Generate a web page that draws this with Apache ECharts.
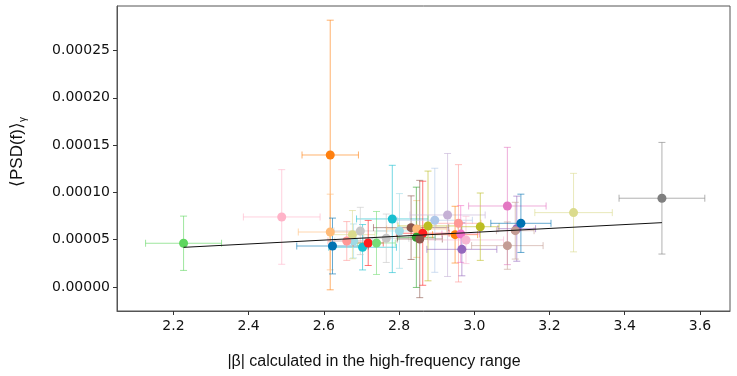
<!DOCTYPE html>
<html>
<head>
<meta charset="utf-8">
<script src="https://cdn.jsdelivr.net/npm/echarts@6/dist/echarts.min.js"></script>
<style>
    html, body { margin: 0; padding: 0; background: #fff; }
    #chart { width: 737px; height: 376px; }
</style>
</head>
<body>
<div id="chart"></div>
<script>
    // |beta| per recording and its error
    var betaValues = [2.227, 2.488, 2.617, 2.617, 2.623, 2.703, 2.782, 2.801, 2.679, 2.661, 2.676, 2.697,
        2.718, 2.740, 2.766, 2.832, 2.847, 2.863, 2.846, 2.855, 2.877, 2.895, 2.929, 2.958,
        2.949, 2.964, 2.978, 2.967, 3.016, 3.088, 3.088, 3.113, 3.109, 3.124, 3.264, 3.499];
    var betaErrors = [0.101, 0.102, 0.075, 0.085, 0.095, 0.090, 0.095, 0.060, 0.050, 0.050, 0.060, 0.070,
        0.040, 0.050, 0.060, 0.100, 0.080, 0.070, 0.050, 0.060, 0.080, 0.100, 0.100, 0.060,
        0.060, 0.050, 0.100, 0.093, 0.050, 0.103, 0.095, 0.050, 0.050, 0.080, 0.103, 0.114];
    // <PSD(f)> and its error
    var psdValues = [4.62e-5, 7.40e-5, 13.95e-5, 5.81e-5, 4.33e-5, 4.20e-5, 7.19e-5, 5.92e-5, 4.86e-5, 4.86e-5, 5.53e-5, 5.92e-5,
        4.65e-5, 4.65e-5, 5.15e-5, 6.27e-5, 6.13e-5, 5.68e-5, 5.25e-5, 5.07e-5, 6.45e-5, 7.05e-5, 7.61e-5, 6.73e-5,
        5.53e-5, 5.60e-5, 4.97e-5, 3.98e-5, 6.37e-5, 8.56e-5, 4.37e-5, 6.16e-5, 5.95e-5, 6.73e-5, 7.86e-5, 9.38e-5];
    var psdErrors = [2.87e-5, 5.00e-5, 14.25e-5, 4.00e-5, 2.95e-5, 2.40e-5, 5.67e-5, 3.95e-5, 1.80e-5, 2.05e-5, 2.55e-5, 2.50e-5,
        2.38e-5, 3.33e-5, 2.56e-5, 3.36e-5, 3.00e-5, 5.50e-5, 5.30e-5, 6.20e-5, 5.80e-5, 5.50e-5, 6.50e-5, 6.20e-5,
        3.00e-5, 3.00e-5, 2.50e-5, 2.80e-5, 3.56e-5, 6.20e-5, 2.50e-5, 3.44e-5, 3.00e-5, 3.08e-5, 4.15e-5, 5.90e-5];
    // linear fit
    var fitBeta = [2.227, 3.499];
    var fitPsd = [4.19e-5, 6.80e-5];
    // ticks
    var xTicks = [2.2, 2.4, 2.6, 2.8, 3.0, 3.2, 3.4, 3.6];
    var yTicks = [0, 0.00005, 0.0001, 0.00015, 0.0002, 0.00025];

    var pointColors = ['#5fd65f', '#ffb3c8', '#ff7f0e', '#ffbb78', '#0072b2', '#17becf', '#17becf', '#9edae5',
        '#9edae5', '#ff9896', '#dbdb8d', '#c7c7c7', '#ff1f1f', '#77dd77', '#c7c7c7', '#8c564b',
        '#ffbb78', '#ff1f1f', '#2ca02c', '#8c564b', '#bcbd22', '#aec7e8', '#c5b0d5', '#ff9896',
        '#ff7f0e', '#f36fc8', '#f7b6d2', '#9467bd', '#bcbd22', '#e377c2', '#c49c94', '#9467bd',
        '#c49c94', '#0072b2', '#dbdb8d', '#7f7f7f'];

    var errData = [];
    var pointData = [];
    for (var i = 0; i < betaValues.length; i++) {
        errData.push([betaValues[i], psdValues[i], betaErrors[i], psdErrors[i]]);
        pointData.push([betaValues[i], psdValues[i]]);
    }
    var fitData = [];
    for (var j = 0; j < fitBeta.length; j++) {
        fitData.push([fitBeta[j], fitPsd[j]]);
    }

    // error bars with caps
    function renderErr(params, api) {
        var x = api.value(0), y = api.value(1), xe = api.value(2), ye = api.value(3);
        var c = api.coord([x, y]);
        var l = api.coord([x - xe, y]), r = api.coord([x + xe, y]);
        var t = api.coord([x, y + ye]), b = api.coord([x, y - ye]);
        var cap = 3.5;
        var st = { stroke: pointColors[params.dataIndex], lineWidth: 1, opacity: 0.6 };
        var segs = [
            [l[0], c[1], r[0], c[1]],
            [c[0], t[1], c[0], b[1]],
            [l[0], c[1] - cap, l[0], c[1] + cap],
            [r[0], c[1] - cap, r[0], c[1] + cap],
            [c[0] - cap, t[1], c[0] + cap, t[1]],
            [c[0] - cap, b[1], c[0] + cap, b[1]]
        ];
        var children = segs.map(function (s) {
            return { type: 'line', shape: { x1: s[0], y1: s[1], x2: s[2], y2: s[3] }, style: st };
        });
        return { type: 'group', children: children };
    }

    var myChart = echarts.init(document.getElementById('chart'));
    var option = {
        animation: false,
        grid: { left: 117, right: 7, top: 6, bottom: 65, show: true, borderColor: '#555', borderWidth: 1 },
        xAxis: {
            type: 'value', min: 2.05, max: 3.68,
            splitLine: { show: false },
            axisLine: { show: true, onZero: false, lineStyle: { color: '#555' } },
            axisTick: { show: true, length: 4, lineStyle: { color: '#333' }, customValues: xTicks },
            axisLabel: {
                customValues: xTicks, margin: 8, color: '#111', fontSize: 14,
                fontFamily: 'DejaVu Sans',
                formatter: function (v) { return v.toFixed(1); }
            }
        },
        yAxis: {
            type: 'value', min: -0.0000254, max: 0.000297,
            splitLine: { show: false },
            axisLine: { show: true, onZero: false, lineStyle: { color: '#555' } },
            axisTick: { show: true, length: 4, lineStyle: { color: '#333' }, customValues: yTicks },
            axisLabel: {
                customValues: yTicks, margin: 7, color: '#111', fontSize: 14,
                fontFamily: 'DejaVu Sans',
                formatter: function (v) { return v.toFixed(5); }
            }
        },
        graphic: [
            {
                type: 'text', x: 374, y: 362,
                style: {
                    text: '|β| calculated in the high-frequency range',
                    font: '16px "Liberation Sans", Arial, sans-serif',
                    fill: '#111', align: 'center', verticalAlign: 'middle'
                }
            },
            {
                type: 'text', x: 17, y: 152, rotation: Math.PI / 2,
                style: {
                    text: '{m|⟨PSD(f)⟩}{s|γ}',
                    fill: '#111', align: 'center', verticalAlign: 'middle',
                    rich: {
                        m: { fontSize: 17, fontFamily: 'Liberation Sans', lineHeight: 22, fill: '#111' },
                        s: { fontSize: 10, fontFamily: 'Liberation Sans', lineHeight: 22, verticalAlign: 'bottom', fill: '#111' }
                    }
                }
            }
        ],
        series: [
            {
                type: 'custom',
                renderItem: renderErr,
                data: errData,
                encode: { x: 0, y: 1 },
                z: 2,
                silent: true
            },
            {
                type: 'scatter',
                data: pointData,
                symbolSize: 9,
                z: 3,
                itemStyle: {
                    opacity: 1,
                    color: function (p) { return pointColors[p.dataIndex]; }
                }
            },
            {
                type: 'line',
                data: fitData,
                symbol: 'none',
                z: 4,
                lineStyle: { color: '#111', width: 1 }
            }
        ]
    };
    myChart.setOption(option);
</script>
</body>
</html>
